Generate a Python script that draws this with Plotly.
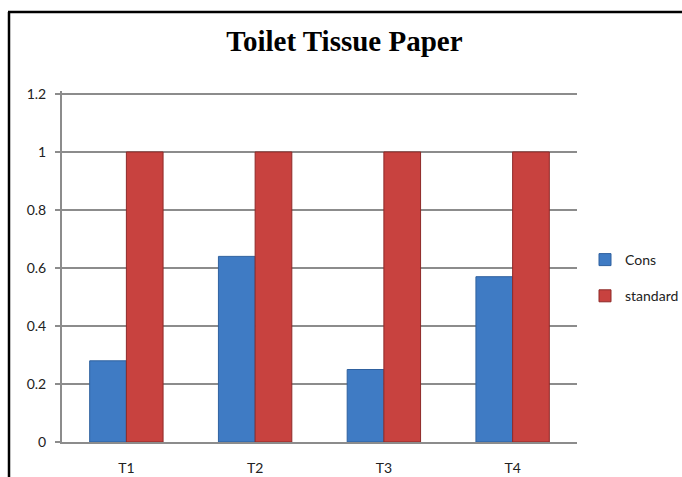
import plotly.graph_objects as go

categories = ["T1", "T2", "T3", "T4"]
cons = [0.28, 0.64, 0.25, 0.57]
standard = [1, 1, 1, 1]
y_ticks = [0, 0.2, 0.4, 0.6, 0.8, 1, 1.2]
y_tick_labels = ["0", "0.2", "0.4", "0.6", "0.8", "1", "1.2"]
y_max = 1.2103

W, H = 682, 477
L, R, T, B = 62, 105, 91, 35
pw, ph = W - L - R, H - T - B


def px_x(p):
    return (p - L) / pw


def px_y(p):
    return (H - B - p) / ph


fig = go.Figure()
fig.add_trace(go.Bar(
    x=categories, y=cons, name="Cons", legendgroup="cons",
    marker=dict(color="#3F7BC4", line=dict(color="#2F619F", width=1)),
))
fig.add_trace(go.Bar(
    x=categories, y=standard, name="standard", legendgroup="std",
    marker=dict(color="#C8423F", line=dict(color="#8E2A28", width=1)),
))

# outer chart frame (left and top edges)
fig.add_shape(type="line", xref="paper", yref="paper",
              x0=px_x(9), x1=px_x(9), y0=px_y(12), y1=px_y(480),
              line=dict(color="black", width=2.5))
fig.add_shape(type="line", xref="paper", yref="paper",
              x0=px_x(8), x1=px_x(690), y0=px_y(12), y1=px_y(12),
              line=dict(color="black", width=2.5))

fig.update_layout(
    width=W, height=H,
    margin=dict(l=L, r=R, t=T, b=B, autoexpand=False),
    paper_bgcolor="white", plot_bgcolor="white",
    barmode="group", bargap=0.43, bargroupgap=0,
    title=dict(text="<b>Toilet Tissue Paper</b>", x=0.505, xanchor="center",
               y=1 - 41 / H, yanchor="middle",
               font=dict(family="Liberation Serif", size=29, color="black")),
    font=dict(family="Lato", size=14, color="#222"),
    legend=dict(x=px_x(585), y=px_y(244), xanchor="left", yanchor="top",
                font=dict(family="Lato", size=14, color="#222"),
                tracegroupgap=15, itemwidth=30, bgcolor="rgba(0,0,0,0)"),
    showlegend=True,
    xaxis=dict(showgrid=False, showline=True, linecolor="#8c8c8c", linewidth=2,
               ticks="", tickfont=dict(size=14), ticklabelstandoff=12),
    yaxis=dict(range=[0, y_max], tickvals=y_ticks, ticktext=y_tick_labels,
               showgrid=True, gridcolor="#8c8c8c", gridwidth=1.5,
               showline=True, linecolor="#8c8c8c", linewidth=2,
               ticks="outside", ticklen=5, tickcolor="#8c8c8c", tickwidth=1.5,
               zeroline=False, tickfont=dict(size=14), ticklabelstandoff=6),
)

fig.write_html("out.html")
